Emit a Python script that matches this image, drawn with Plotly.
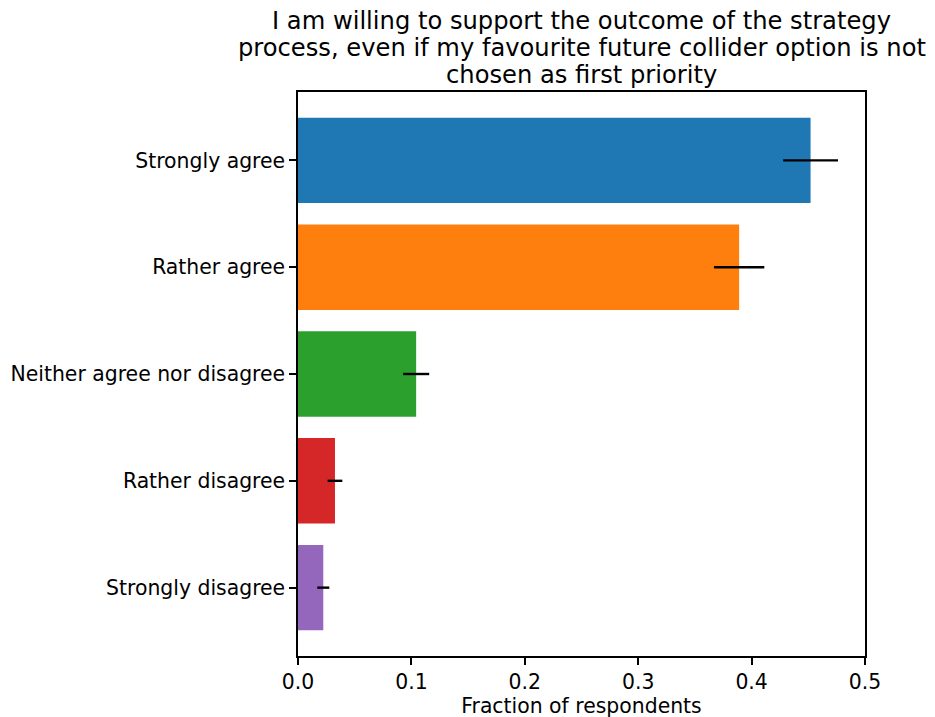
import plotly.graph_objects as go

categories = ["Strongly disagree", "Rather disagree", "Neither agree nor disagree",
              "Rather agree", "Strongly agree"]
fractions = [0.0223, 0.0326, 0.1042, 0.389, 0.452]
errors = [0.0053, 0.0065, 0.0115, 0.0222, 0.0242]
colors = ["#9467bd", "#d62728", "#2ca02c", "#ff7f0e", "#1f77b4"]
xticks = [0.0, 0.1, 0.2, 0.3, 0.4, 0.5]
title_lines = ["I am willing to support the outcome of the strategy",
               "process, even if my favourite future collider option is not",
               "chosen as first priority"]

fig = go.Figure()
fig.add_trace(go.Bar(
    x=fractions, y=categories, orientation="h",
    marker=dict(color=colors, line=dict(width=0)),
    width=0.8,
    error_x=dict(type="data", array=errors, visible=True, color="black",
                 thickness=2.4, width=0),
))

font = "DejaVu Sans"
fig.update_layout(
    width=935, height=717,
    margin=dict(l=290, r=78, t=84, b=69),
    plot_bgcolor="white", paper_bgcolor="white",
    showlegend=False,
    font=dict(family=font, size=20.4, color="black"),
    bargap=0.2,
)
for i, line in enumerate(title_lines):
    fig.add_annotation(
        text=line, xref="paper", yref="paper", x=0.5, y=1,
        xanchor="center", yanchor="middle", yshift=71 - 27 * i, showarrow=False,
        font=dict(family=font, size=24.2, color="black"),
    )
fig.update_xaxes(
    range=[0, 0.5], tickvals=xticks, ticktext=[f"{v:.1f}" for v in xticks],
    showgrid=False, zeroline=False, automargin=False,
    showline=True, linecolor="black", linewidth=1.5, mirror=True,
    ticks="outside", ticklen=7, tickwidth=1.5, tickcolor="black",
    title=dict(text="Fraction of respondents", font=dict(family=font, size=20.4), standoff=4),
    tickfont=dict(family=font, size=20.4),
)
fig.update_yaxes(
    type="category", categoryorder="array", categoryarray=categories,
    range=[-0.64, 4.64],
    showgrid=False, zeroline=False, automargin=False,
    showline=True, linecolor="black", linewidth=1.5, mirror=True,
    ticks="outside", ticklen=7, tickwidth=1.5, tickcolor="black",
    ticklabelstandoff=0,
    tickfont=dict(family=font, size=20.4),
)

fig.write_html("out.html")
